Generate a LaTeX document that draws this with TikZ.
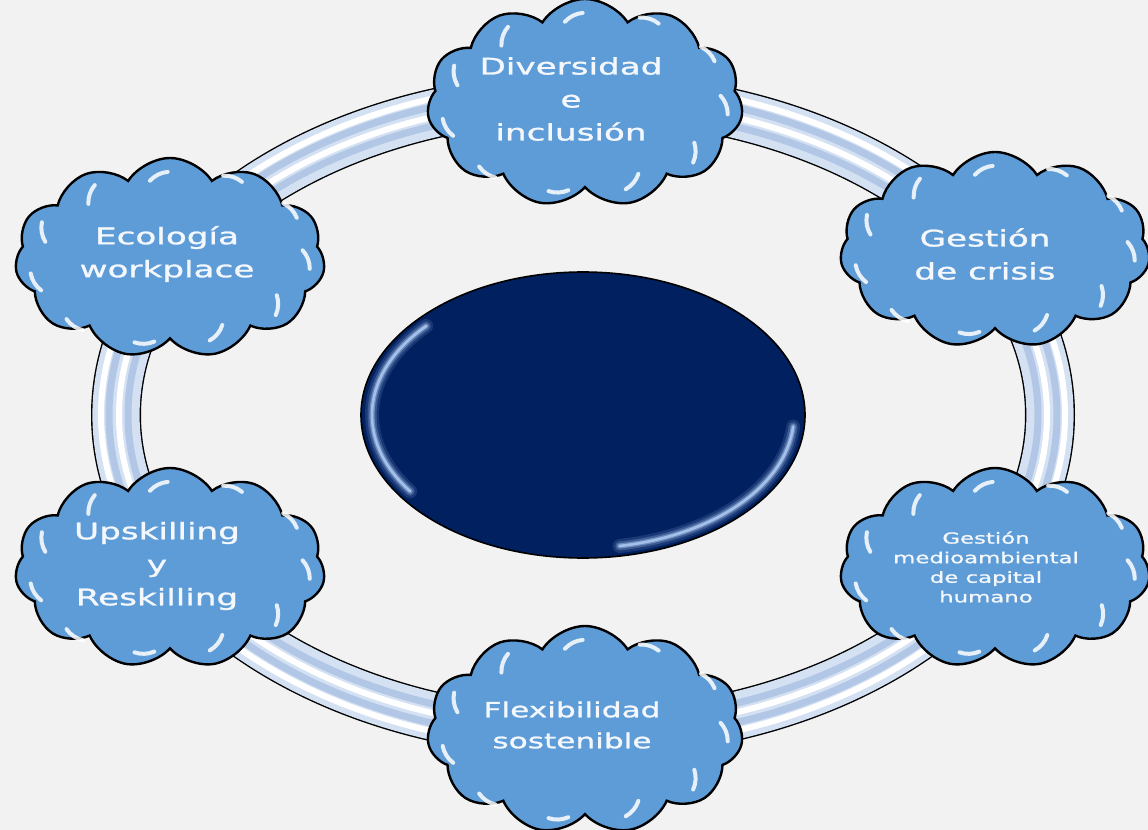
\documentclass[tikz,border=0pt]{standalone}
\usepackage{fontspec}
\setmainfont{DejaVu Sans}
\newfontfamily\cloudfont[FakeStretch=1.5,FakeBold=1.2]{DejaVu Sans}
\usetikzlibrary{shapes.symbols,shapes.geometric,calc}
\definecolor{bg}{HTML}{F2F2F2}
\definecolor{cloudblue}{HTML}{5E9CD8}
\definecolor{navy}{HTML}{002060}
\definecolor{ringfill}{HTML}{D3E1F3}
\definecolor{ringstripe}{HTML}{B2C7E6}
\definecolor{glow}{HTML}{A9C6F0}
\definecolor{textwhite}{HTML}{F4F8FC}
\tikzset{
  cloudbox/.style 2 args={cloud, cloud puffs=11, cloud puff arc=115, draw=black,
    line width=1.2pt, fill=cloudblue, minimum width=#1, minimum height=#2, inner sep=0pt},
  bigtext/.style={text=textwhite, align=center, font=\cloudfont\fontsize{11.4}{16.5}\selectfont},
  midtext/.style={text=textwhite, align=center, font=\cloudfont\fontsize{10.4}{15.5}\selectfont},
  smalltext/.style={text=textwhite, align=center, font=\cloudfont\fontsize{7.6}{9.8}\selectfont},
  shine/.style={white, line width=2pt, opacity=0.85, line cap=round},
  glowline/.style={glow, line cap=round},
}
\newcommand{\cloudshine}[1]{%
  \foreach \i in {1,...,11}{%
    \draw[shine] let \p1=(#1.center), \p2=(#1.puff \i), \n1={atan2(\y2-\y1,\x2-\x1)} in
      ($(\p2)!21pt!(\p1)$) ++({\n1+5}:13.5pt) arc[start angle={\n1+5}, end angle={\n1+48}, radius=13.5pt];
  }%
}
\begin{document}
\begin{tikzpicture}[x=0.5pt,y=-0.5pt]
\fill[bg] (0,0) rectangle (1148,830);
\useasboundingbox (0,0) rectangle (1148,830);
% ring
\draw[black, line width=25pt] (583,415) ellipse [x radius=467, y radius=318];
\draw[ringfill, line width=23.6pt] (583,415) ellipse [x radius=467, y radius=318];
\draw[white, line width=3pt] (583,415) ellipse [x radius=482, y radius=333];
\draw[ringstripe, line width=3.5pt] (583,415) ellipse [x radius=474, y radius=325];
\draw[white, line width=3pt] (583,415) ellipse [x radius=464, y radius=315];
\draw[ringstripe, line width=3.5pt] (583,415) ellipse [x radius=455, y radius=306];
% centre
\node (centre) [ellipse, draw=black, line width=0.8pt, fill=navy, minimum width=222pt, minimum height=143pt, inner sep=0pt] at (583,415) {};
\foreach \w/\o in {7pt/0.15, 4.5pt/0.25, 2.6pt/0.45, 1.3pt/0.9}{
  \draw[glowline, line width=\w, opacity=\o] (583,415) ++(145:{211} and {133}) arc[start angle=145, end angle=222, x radius=211, y radius=133];
  \draw[glowline, line width=\w, opacity=\o] (583,415) ++(5:{211} and {133}) arc[start angle=5, end angle=80, x radius=211, y radius=133];
}
% clouds
\node (c1) [cloudbox={158pt}{104pt}] at (585,103) {};
\node (c2) [cloudbox={155pt}{98pt}] at (995,250) {};
\node (c3) [cloudbox={155pt}{100pt}] at (995,568) {};
\node (c4) [cloudbox={158pt}{104pt}] at (585,730) {};
\node (c5) [cloudbox={155pt}{100pt}] at (170,568) {};
\node (c6) [cloudbox={155pt}{100pt}] at (170,258) {};
\cloudshine{c1}
\cloudshine{c2}
\cloudshine{c3}
\cloudshine{c4}
\cloudshine{c5}
\cloudshine{c6}
% texts
\node (t1) [bigtext] at (571,99) {Diversidad\\e\\inclusión};
\node (t2) [bigtext] at (985,254) {Gestión\\de crisis};
\node (t3) [smalltext] at (986,567) {Gestión\\medioambiental\\de capital\\humano};
\node (t4) [midtext] at (572,725) {Flexibilidad\\sostenible};
\node (t5) [bigtext] at (157,566) {Upskilling\\y\\Reskilling};
\node (t6) [bigtext] at (167,254) {Ecología\\workplace};
\end{tikzpicture}
\end{document}
